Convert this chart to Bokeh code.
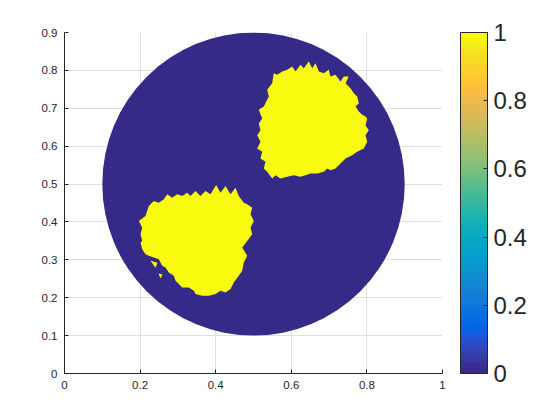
from bokeh.plotting import figure
from bokeh.models import ColorBar, LinearColorMapper, FixedTicker, ColumnDataSource, Range1d
from bokeh.embed import file_html
from bokeh.resources import INLINE

# ---- data ----
disk_x = [0.5]
disk_y = [0.5]
disk_diam = [0.8]
disk_val = [0.0]

blob1_x = [0.2056, 0.1966, 0.2143, 0.2230, 0.2362, 0.2495, 0.2627, 0.2717, 0.2849, 0.2981,
           0.3114, 0.3246, 0.3333, 0.3466, 0.3598, 0.3730, 0.3862, 0.4013, 0.4127, 0.4259,
           0.4392, 0.4524, 0.4611, 0.4743, 0.4833, 0.4966, 0.4921, 0.5008, 0.4921, 0.4966,
           0.4833, 0.4701, 0.4833, 0.4743, 0.4701, 0.4611, 0.4479, 0.4392, 0.4259, 0.4127,
           0.3995, 0.3817, 0.3643, 0.3466, 0.3421, 0.3288, 0.3114, 0.3024, 0.2937, 0.2892,
           0.2759, 0.2672, 0.2585, 0.2495, 0.2362, 0.2230, 0.2143, 0.2056, 0.2011, 0.2056, 0.2011]
blob1_y = [0.3850, 0.4026, 0.4158, 0.4421, 0.4553, 0.4508, 0.4597, 0.4729, 0.4639, 0.4729,
           0.4684, 0.4771, 0.4684, 0.4816, 0.4684, 0.4816, 0.4729, 0.4974, 0.4771, 0.4947,
           0.4729, 0.4903, 0.4684, 0.4508, 0.4466, 0.4376, 0.4203, 0.4026, 0.3850, 0.3676,
           0.3500, 0.3324, 0.3105, 0.2929, 0.2711, 0.2579, 0.2403, 0.2229, 0.2139, 0.2184,
           0.2097, 0.2053, 0.2053, 0.2097, 0.2184, 0.2271, 0.2271, 0.2361, 0.2447, 0.2579,
           0.2666, 0.2797, 0.2842, 0.3018, 0.3061, 0.3105, 0.3150, 0.3282, 0.3455, 0.3500, 0.3676]

frag1_x = [0.2275, 0.2460, 0.2407]
frag1_y = [0.2974, 0.2921, 0.2789]
frag2_x = [0.2487, 0.2593, 0.2540]
frag2_y = [0.2639, 0.2613, 0.2508]

blob2_x = [0.5362, 0.5495, 0.5537, 0.5627, 0.5759, 0.5892, 0.6024, 0.6111, 0.6243, 0.6331,
           0.6463, 0.6553, 0.6640, 0.6728, 0.6860, 0.6992, 0.7037, 0.7169, 0.7302, 0.7389,
           0.7521, 0.7434, 0.7566, 0.7653, 0.7743, 0.7786, 0.7698, 0.7786, 0.7876, 0.7963,
           0.8008, 0.7963, 0.8050, 0.7963, 0.8008, 0.7918, 0.7743, 0.7611, 0.7434, 0.7302,
           0.7169, 0.7037, 0.6950, 0.6860, 0.6685, 0.6508, 0.6376, 0.6243, 0.6066, 0.5892,
           0.5714, 0.5582, 0.5495, 0.5362, 0.5272, 0.5317, 0.5185, 0.5230, 0.5098, 0.5185,
           0.5098, 0.5185, 0.5140, 0.5230, 0.5140, 0.5272, 0.5405]
blob2_y = [0.7487, 0.7662, 0.7926, 0.7883, 0.7970, 0.8015, 0.8102, 0.7970, 0.8147, 0.8058,
           0.8234, 0.8058, 0.8190, 0.7970, 0.7926, 0.8015, 0.7838, 0.7883, 0.7706, 0.7838,
           0.7838, 0.7662, 0.7530, 0.7398, 0.7311, 0.7134, 0.7047, 0.6915, 0.6828, 0.6783,
           0.6730, 0.6553, 0.6421, 0.6289, 0.6115, 0.5938, 0.5851, 0.5761, 0.5674, 0.5542,
           0.5410, 0.5366, 0.5410, 0.5323, 0.5278, 0.5278, 0.5234, 0.5191, 0.5234, 0.5191,
           0.5146, 0.5234, 0.5146, 0.5323, 0.5410, 0.5587, 0.5674, 0.5851, 0.5938, 0.6115,
           0.6289, 0.6421, 0.6598, 0.6730, 0.6960, 0.7047, 0.7311]

blob_val = [1.0, 1.0, 1.0, 1.0]

x_ticks = [0, 0.2, 0.4, 0.6, 0.8, 1.0]
x_labels = ["0", "0.2", "0.4", "0.6", "0.8", "1"]
y_ticks = [0, 0.1, 0.2, 0.3, 0.4, 0.5, 0.6, 0.7, 0.8, 0.9]
y_labels = ["0", "0.1", "0.2", "0.3", "0.4", "0.5", "0.6", "0.7", "0.8", "0.9"]
cb_ticks = [0, 0.2, 0.4, 0.6, 0.8, 1.0]
cb_labels = ["0", "0.2", "0.4", "0.6", "0.8", "1"]

parula = ["#352A87", "#363093", "#3637A0", "#353DAD", "#3243BA", "#2C4AC7", "#2053D4", "#0F5CDD",
          "#0363E1", "#0268E1", "#046DE0", "#0871DE", "#0D75DC", "#1079DA", "#127DD8", "#1481D6",
          "#1485D4", "#1389D3", "#108ED2", "#0C93D2", "#0998D1", "#079CCF", "#06A0CD", "#06A4CA",
          "#06A7C6", "#07A9C2", "#0AACBE", "#0FAEB9", "#15B1B4", "#1DB3AF", "#25B5A9", "#2EB7A4",
          "#38B99E", "#42BB98", "#4DBC92", "#59BD8C", "#65BE86", "#71BF80", "#7CBF7B", "#87BF77",
          "#92BF73", "#9CBF6F", "#A5BE6B", "#AEBE67", "#B7BD64", "#C0BC60", "#C8BC5D", "#D1BB59",
          "#D9BA56", "#E1B952", "#E9B94E", "#F1B94A", "#F8BB44", "#FDBE3D", "#FFC337", "#FEC832",
          "#FCCE2E", "#FAD32A", "#F7D826", "#F5DE21", "#F5E41D", "#F5EB18", "#F6F313", "#F9FB0E"]

FONT = "Liberation Sans"
AX = "#262626"

mapper = LinearColorMapper(palette=parula, low=0, high=1)

p = figure(width=544, height=412, x_range=Range1d(0, 1), y_range=Range1d(0, 0.9),
           output_backend="svg", toolbar_location=None,
           min_border_left=64, min_border_top=32, min_border_bottom=39, min_border_right=102)
p.outline_line_color = None
p.background_fill_color = "white"
p.border_fill_color = "white"

disk_src = ColumnDataSource(dict(x=disk_x, y=disk_y, d=disk_diam, v=disk_val))
p.ellipse(x="x", y="y", width="d", height="d", source=disk_src,
          fill_color={"field": "v", "transform": mapper}, line_color=None)

blob_src = ColumnDataSource(dict(xs=[blob1_x, blob2_x, frag1_x, frag2_x],
                                 ys=[blob1_y, blob2_y, frag1_y, frag2_y], v=blob_val))
p.patches(xs="xs", ys="ys", source=blob_src,
          fill_color={"field": "v", "transform": mapper}, line_color=None)

p.xaxis.ticker = FixedTicker(ticks=x_ticks)
p.yaxis.ticker = FixedTicker(ticks=y_ticks)
p.xaxis.major_label_overrides = dict(zip(x_ticks, x_labels))
p.yaxis.major_label_overrides = dict(zip(y_ticks, y_labels))
for ax in (p.xaxis[0], p.yaxis[0]):
    ax.axis_line_color = AX
    ax.major_tick_line_color = AX
    ax.major_tick_in = 4
    ax.major_tick_out = 0
    ax.minor_tick_line_color = None
    ax.major_label_text_font = FONT
    ax.major_label_text_font_size = "11.5px"
    ax.major_label_text_color = AX
p.xaxis.major_label_standoff = 7
p.yaxis.major_label_standoff = 7

p.xgrid.grid_line_color = "#DFDFDF"
p.ygrid.grid_line_color = "#DFDFDF"

cb = ColorBar(color_mapper=mapper, ticker=FixedTicker(ticks=cb_ticks),
              major_label_overrides=dict(zip(cb_ticks, cb_labels)),
              width=27, height=341, padding=0, margin=0, location=(18, 0),
              major_label_text_font=FONT, major_label_text_font_size="24px",
              major_label_text_color=AX, label_standoff=6,
              bar_line_color=AX, major_tick_line_color=AX, major_tick_in=4, major_tick_out=0,
              minor_tick_line_color=None, background_fill_color=None)
p.add_layout(cb, "right")

open("out.html", "w").write(file_html(p, INLINE))
